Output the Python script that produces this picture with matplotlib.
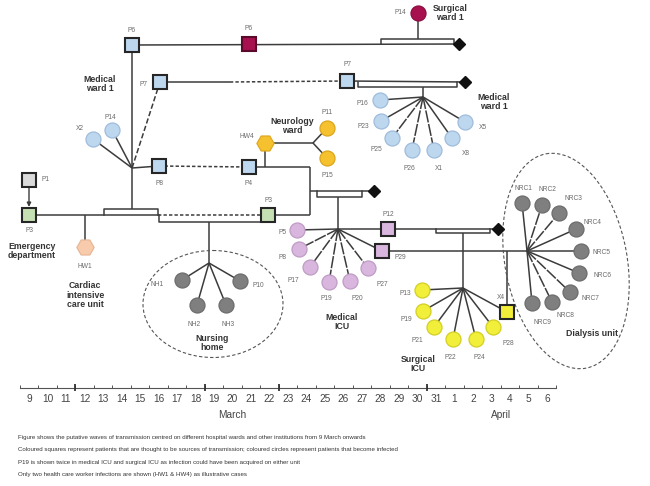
import numpy as np
import matplotlib
matplotlib.use("Agg")
import matplotlib.pyplot as plt
import matplotlib.transforms as mtransforms
from matplotlib.patches import Ellipse

plt.rcParams['font.family'] = ['Liberation Sans', 'DejaVu Sans']

# ---------------- data ----------------
# timeline: days from 9 March (index 0) to 6 April (index 28)
day_labels = [str(d) for d in range(9, 32)] + [str(d) for d in range(1, 7)]
month_names = ['March', 'April']
month_day = [11.0, 25.5]
week_marks = [2.5, 9.5, 13.5, 21.5]

# patients / health care workers: x = day index, y = layout row
node_id = ['P6a', 'P6b', 'P7a', 'P7b', 'X2', 'P14a', 'P8a', 'P4', 'HW4', 'P11', 'P15',
           'P1', 'P3a', 'P3b', 'HW1',
           'NH1', 'P10', 'NH2', 'NH3',
           'P16', 'P23', 'P25', 'P26', 'X1', 'X8', 'X5', 'P14b',
           'P5', 'P8b', 'P17', 'P19a', 'P20', 'P27', 'P12', 'P29',
           'X4', 'P13', 'P19b', 'P21', 'P22', 'P24', 'P28',
           'NRC1', 'NRC2', 'NRC3', 'NRC4', 'NRC5', 'NRC6', 'NRC7', 'NRC8', 'NRC9']
node_text = ['P6', 'P6', 'P7', 'P7', 'X2', 'P14', 'P8', 'P4', 'HW4', 'P11', 'P15',
             'P1', 'P3', 'P3', 'HW1',
             'NH1', 'P10', 'NH2', 'NH3',
             'P16', 'P23', 'P25', 'P26', 'X1', 'X8', 'X5', 'P14',
             'P5', 'P8', 'P17', 'P19', 'P20', 'P27', 'P12', 'P29',
             'X4', 'P13', 'P19', 'P21', 'P22', 'P24', 'P28',
             'NRC1', 'NRC2', 'NRC3', 'NRC4', 'NRC5', 'NRC6', 'NRC7', 'NRC8', 'NRC9']
node_day = [5.57, 11.89, 7.08, 17.19, 3.46, 4.49, 7.03, 11.89, 12.76, 16.11, 16.11,
            0.0, 0.0, 12.92, 3.03,
            8.27, 11.41, 9.08, 10.65,
            18.97, 19.03, 19.62, 20.70, 21.89, 22.86, 23.57, 21.03,
            14.49, 14.59, 15.19, 16.22, 17.35, 18.32, 19.41, 19.08,
            25.84, 21.24, 21.30, 21.89, 22.92, 24.16, 25.08,
            26.65, 27.73, 28.65, 29.57, 29.84, 29.73, 29.24, 28.27, 27.19]
node_row = [45, 44, 82, 81, 139, 130, 166, 167, 143, 128, 158,
            180, 215, 215, 247,
            280, 281, 305, 305,
            100, 121, 138, 150, 150, 138, 122, 13,
            230, 249, 267, 282, 281, 268, 229, 251,
            312, 290, 311, 327, 339, 339, 327,
            203, 205, 213, 229, 251, 273, 292, 302, 303]
node_kind = ['src', 'src', 'src', 'src', 'case', 'case', 'src', 'src', 'hcw', 'case', 'case',
             'src', 'src', 'src', 'hcw',
             'case', 'case', 'case', 'case',
             'case', 'case', 'case', 'case', 'case', 'case', 'case', 'case',
             'case', 'case', 'case', 'case', 'case', 'case', 'src', 'src',
             'src', 'case', 'case', 'case', 'case', 'case', 'case',
             'case', 'case', 'case', 'case', 'case', 'case', 'case', 'case', 'case']
node_unit = ['mw1', 'sw1', 'mw1', 'mw1', 'mw1', 'mw1', 'mw1', 'mw1', 'neuro', 'neuro', 'neuro',
             'p1', 'ed', 'ed', 'ccu',
             'nh', 'nh', 'nh', 'nh',
             'mw1', 'mw1', 'mw1', 'mw1', 'mw1', 'mw1', 'mw1', 'sw1',
             'micu', 'micu', 'micu', 'micu', 'micu', 'micu', 'micu', 'micu',
             'sicu', 'sicu', 'sicu', 'sicu', 'sicu', 'sicu', 'sicu',
             'dial', 'dial', 'dial', 'dial', 'dial', 'dial', 'dial', 'dial', 'dial']

# junctions / hubs of the transmission tree
hub_id = ['J6', 'H_mw1', 'J7', 'D1', 'D2', 'H_mw1b', 'J4', 'J3', 'Jm', 'D3', 'H_micu',
          'J_hw4', 'H_neuro', 'J_main', 'J_hw1', 'H_nh', 'D4', 'H_sicu', 'J_x4', 'H_dial',
          'J_sw1', 'J_mw1b', 'J_micu', 'J_sicu', 'J_nh']
hub_day = [5.57, 5.57, 10.86, 23.24, 23.57, 21.30, 15.19, 15.19, 15.19, 18.65, 16.70,
           12.76, 15.35, 6.97, 3.03, 9.73, 25.35, 23.46, 25.84, 26.92,
           21.03, 21.30, 16.70, 23.46, 9.73]
hub_row = [209, 168, 82, 44, 82, 97, 167, 215, 191, 191, 229,
           167, 143, 215, 215, 263, 229, 288, 251, 251,
           39, 87, 197, 233, 222]

# edges: (from, to, style)
edges = [('P6a', 'D1', '-'), ('P6a', 'J6', '-'), ('J_sw1', 'P14b', '-'),
         ('P7a', 'J7', '-'), ('J7', 'P7b', ':'), ('P7b', 'D2', '-'),
         ('J_mw1b', 'H_mw1b', '-'),
         ('H_mw1b', 'P16', '-'), ('H_mw1b', 'P23', '-'), ('H_mw1b', 'P25', '~'),
         ('H_mw1b', 'P26', '~'), ('H_mw1b', 'X1', '~'), ('H_mw1b', 'X8', '-'),
         ('H_mw1b', 'X5', '-'),
         ('H_mw1', 'X2', '-'), ('H_mw1', 'P14a', '-'), ('H_mw1', 'P7a', '--'),
         ('H_mw1', 'P8a', '-'), ('P8a', 'P4', ':'), ('P4', 'J4', '-'), ('J4', 'J3', '-'),
         ('P3b', 'J3', '-'), ('Jm', 'D3', '-'), ('J_micu', 'H_micu', '-'),
         ('HW4', 'J_hw4', '-'), ('HW4', 'H_neuro', '-'), ('H_neuro', 'P11', '-'),
         ('H_neuro', 'P15', '-'),
         ('P3a', 'J_main', '-'), ('J_main', 'P3b', ':'), ('J_hw1', 'HW1', '-'),
         ('J_nh', 'H_nh', '-'), ('H_nh', 'NH1', '-'), ('H_nh', 'NH2', '-'),
         ('H_nh', 'NH3', '-'), ('H_nh', 'P10', '-'),
         ('H_micu', 'P5', '-'), ('H_micu', 'P8b', '~'), ('H_micu', 'P17', '~'),
         ('H_micu', 'P19a', '~'), ('H_micu', 'P20', '~'), ('H_micu', 'P27', '~'),
         ('H_micu', 'P29', '-'), ('H_micu', 'P12', '-'), ('P12', 'D4', '-'),
         ('J_sicu', 'H_sicu', '-'), ('P29', 'H_dial', '-'), ('J_x4', 'X4', '-'),
         ('H_sicu', 'P13', '-'), ('H_sicu', 'P19b', '-'), ('H_sicu', 'P21', '-'),
         ('H_sicu', 'P22', '-'), ('H_sicu', 'P24', '-'), ('H_sicu', 'P28', '-'),
         ('H_sicu', 'X4', '-'),
         ('H_dial', 'NRC1', '-'), ('H_dial', 'NRC2', '~'), ('H_dial', 'NRC3', '~'),
         ('H_dial', 'NRC4', '-'), ('H_dial', 'NRC5', '-'), ('H_dial', 'NRC6', '-'),
         ('H_dial', 'NRC7', '~'), ('H_dial', 'NRC8', '~'), ('H_dial', 'NRC9', '-')]

# ward-stay brackets: (day start, day end, row, tick row, style)
brackets = [(19.03, 22.97, 39, 44, '-'), (17.78, 23.14, 87, 82, '-'),
            (15.57, 18.00, 197, 191, '-'), (4.05, 6.97, 209, 215, '-'),
            (7.03, 12.54, 222, 215, '-'), (22.00, 24.92, 233, 229, '-')]
end_marks = ['D1', 'D2', 'D3', 'D4']

caption = ["Figure shows the putative waves of transmission centred on different hospital wards and other institutions from 9 March onwards",
           "Coloured squares represent patients that are thought to be sources of transmission; coloured circles represent patients that become infected",
           "P19 is shown twice in medical ICU and surgical ICU as infection could have been acquired on either unit",
           "Only two health care worker infections are shown (HW1 & HW4) as illustrative cases"]

# ---------------- styles / layout ----------------
W, H = 650, 486
PX0, PXD = 29.0, 18.5          # pixel of day 0 and pixels per day
LC = '#3c3c3c'
unit_face = {'mw1': '#bdd7ee', 'sw1': '#a8114f', 'neuro': '#f5c12e', 'p1': '#d9d9d9',
             'ed': '#c5e0b3', 'ccu': '#f8cbad', 'nh': '#7f7f7f', 'micu': '#d9b6de',
             'sicu': '#f2ef3a', 'dial': '#7f7f7f'}
unit_edge = {'mw1': '#9fbcdc', 'sw1': '#8a0d40', 'neuro': '#dca51c', 'p1': '#3a3a3a',
             'ed': '#3a3a3a', 'ccu': '#e6b393', 'nh': '#6c6c6c', 'micu': '#bf9cc5',
             'sicu': '#d2cf25', 'dial': '#6c6c6c'}
label_off = {'P6a': (0, -15), 'P6b': (0, -15), 'P7a': (-16, 3), 'P7b': (0, -16),
             'X2': (-13, -11), 'P14a': (-2, -13), 'P8a': (0, 17), 'P4': (0, 16),
             'HW4': (-18, -7), 'P11': (0, -16), 'P15': (0, 17), 'P1': (16, -1),
             'P3a': (0, 15), 'P3b': (0, -15), 'HW1': (0, 19),
             'NH1': (-25, 4), 'P10': (18, 4), 'NH2': (-3, 19), 'NH3': (2, 19),
             'P16': (-18, 3), 'P23': (-18, 5), 'P25': (-16, 11), 'P26': (-3, 18),
             'X1': (5, 18), 'X8': (14, 15), 'X5': (18, 5), 'P14b': (-18, 0),
             'P5': (-15, 2), 'P8b': (-16, 8), 'P17': (-17, 13), 'P19a': (-3, 16),
             'P20': (7, 17), 'P27': (14, 16), 'P12': (0, -15), 'P29': (18, 6),
             'X4': (-6, -15), 'P13': (-17, 3), 'P19b': (-17, 8), 'P21': (-17, 13),
             'P22': (-3, 18), 'P24': (3, 18), 'P28': (15, 16),
             'NRC1': (1, -15), 'NRC2': (5, -16), 'NRC3': (14, -15), 'NRC4': (16, -7),
             'NRC5': (20, 1), 'NRC6': (23, 2), 'NRC7': (20, 6), 'NRC8': (13, 13),
             'NRC9': (10, 19)}
ls_map = {'-': '-', ':': (0, (2.2, 1.4)), '--': (0, (3.5, 1.6)), '~': (0, (8, 1.0))}

fig = plt.figure(figsize=(W / 100, H / 100), dpi=100)
ax = fig.add_axes([0, 0, 1, 1])
ax.set_xlim(-PX0 / PXD, (W - PX0) / PXD)
ax.set_ylim(H, 0)
ax.axis('off')
# pixel-layout frame for decorations (text, dashed unit outlines)
px = mtransforms.Affine2D().scale(1 / PXD, 1).translate(-PX0 / PXD, 0) + ax.transData

pos = {n: (d, r) for n, d, r in zip(node_id, node_day, node_row)}
pos.update({n: (d, r) for n, d, r in zip(hub_id, hub_day, hub_row)})

for a, b, s in edges:
    ax.plot([pos[a][0], pos[b][0]], [pos[a][1], pos[b][1]], color=LC, lw=1.1,
            ls=ls_map[s], zorder=1, solid_capstyle='butt')
for d1, d2, r, t, s in brackets:
    ax.plot([d1, d1, d2, d2], [t, r, r, t], color=LC, lw=1.1, ls=ls_map[s], zorder=1)
for m in end_marks:
    ax.plot(*pos[m], marker='D', ms=6.3, color='#111111', zorder=3)

ax.annotate('', xy=(pos['P3a'][0], pos['P3a'][1] - 8), xytext=(pos['P1'][0], pos['P1'][1] + 8),
            arrowprops=dict(arrowstyle='-|>', color=LC, lw=1.0, mutation_scale=6,
                            shrinkA=0, shrinkB=0), zorder=1)

for n, t, d, r, k, u in zip(node_id, node_text, node_day, node_row, node_kind, node_unit):
    if k == 'src':
        ax.plot(d, r, marker='s', ms=10.5, mfc=unit_face[u],
                mec='#5c0a2c' if u == 'sw1' else '#262626', mew=1.5, zorder=4)
    elif k == 'hcw':
        ax.plot(d, r, marker='H', ms=12.5, mfc=unit_face[u], mec=unit_edge[u], mew=0.8, zorder=4)
    else:
        ax.plot(d, r, marker='o', ms=10.8, mfc=unit_face[u], mec=unit_edge[u], mew=0.9, zorder=4)
    dx, dy = label_off[n]
    ax.annotate(t, (d, r), xytext=(dx, -dy), textcoords='offset pixels', ha='center',
                va='center', fontsize=4.8, color='#6a6a6a', zorder=5)

# unit outlines
ax.add_patch(Ellipse((213, 304), 140, 107, fill=False, ls=(0, (3, 2)), lw=0.8,
                     ec='#555555', transform=px))
ax.add_patch(Ellipse((566, 261), 122, 218, angle=-10.6, fill=False, ls=(0, (3, 2)), lw=0.8,
                     ec='#555555', transform=px))

# unit names
unit_names = [("Medical\nward 1", 100, 84), ("Neurology\nward", 292, 126),
              ("Surgical\nward 1", 450, 13), ("Medical\nward 1", 494, 102),
              ("Emergency\ndepartment", 32, 251), ("Cardiac\nintensive\ncare unit", 85, 295),
              ("Nursing\nhome", 212, 343), ("Medical\nICU", 342, 322),
              ("Surgical\nICU", 418, 364), ("Dialysis unit", 592, 333)]
for txt, x, y in unit_names:
    ax.text(x, y, txt, transform=px, ha='center', va='center', fontsize=6.3,
            fontweight='bold', color='#333333', linespacing=1.1)

# timeline
idx = np.arange(len(day_labels))
ax.plot([idx[0] - 0.5, idx[-1] + 0.5], [388, 388], color='#555555', lw=0.8)
ax.vlines(np.arange(-0.5, len(day_labels)), 385, 388, color='#555555', lw=0.7)
ax.vlines(week_marks, 384, 391, color='#333333', lw=1.3)
for i, l in zip(idx, day_labels):
    ax.text(i, 399, l, ha='center', va='center', fontsize=7.3, color='#444444')
for m, d in zip(month_names, month_day):
    ax.text(d, 415, m, ha='center', va='center', fontsize=7.3, color='#444444')

for i, line in enumerate(caption):
    ax.text(18, 437 + 12.5 * i, line, transform=px, ha='left', va='center', fontsize=4.4,
            color='#333333')

fig.savefig('out.png', dpi=100)
